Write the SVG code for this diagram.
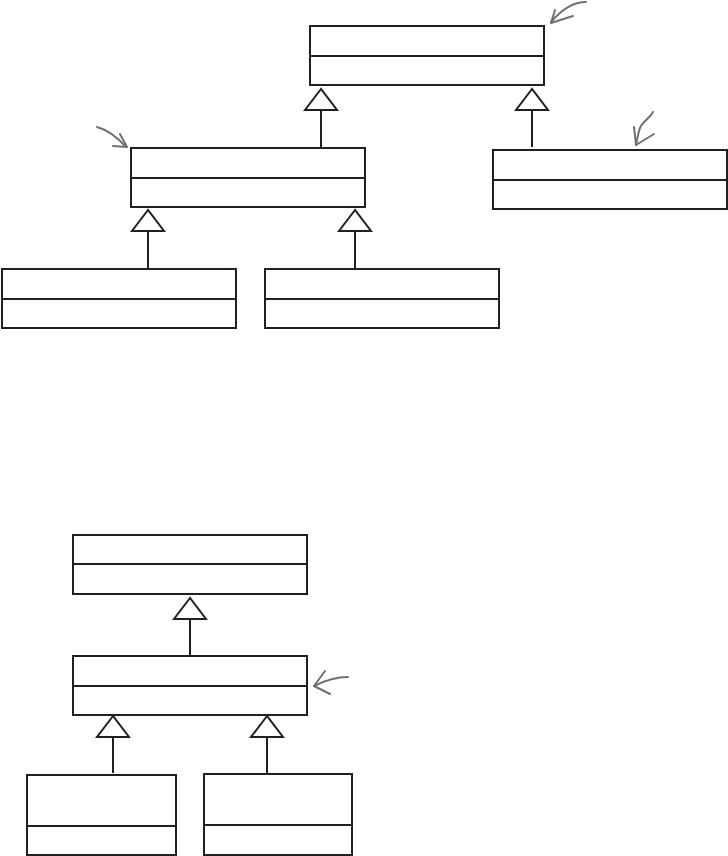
<svg xmlns="http://www.w3.org/2000/svg" width="728" height="856" viewBox="0 0 728 856">
<style>
.box{fill:#fff;stroke:#231f20;stroke-width:2}
.div{stroke:#231f20;stroke-width:2}
.con{stroke:#231f20;stroke-width:2;fill:none}
.tri{fill:#fff;stroke:#231f20;stroke-width:2;stroke-linejoin:miter}
.hand{fill:none;stroke:#707070;stroke-width:2;stroke-linecap:round;stroke-linejoin:round}
</style>
<rect width="728" height="856" fill="#fff"/>
<g id="connectors">
<line class="con" x1="321" y1="110" x2="321" y2="148"/>
<polygon class="tri" points="321,89 305,110 337,110"/>
<line class="con" x1="532" y1="110" x2="532" y2="147"/>
<polygon class="tri" points="532,89 516,110 548,110"/>
<line class="con" x1="148" y1="231" x2="148" y2="269"/>
<polygon class="tri" points="148,210 132,231 164,231"/>
<line class="con" x1="355" y1="231" x2="355" y2="269"/>
<polygon class="tri" points="355,210 339,231 371,231"/>
<line class="con" x1="190" y1="619" x2="190" y2="656"/>
<polygon class="tri" points="190,598 174,619 206,619"/>
<line class="con" x1="113" y1="737" x2="113" y2="773"/>
<polygon class="tri" points="113,716 97,737 129,737"/>
<line class="con" x1="267" y1="737" x2="267" y2="774"/>
<polygon class="tri" points="267,716 251,737 283,737"/>
</g>
<g id="nodeA"><rect class="box" x="310" y="26" width="234" height="59"/><line class="div" x1="310" y1="56" x2="544" y2="56"/></g>
<g id="nodeB"><rect class="box" x="131" y="148" width="234" height="59"/><line class="div" x1="131" y1="178" x2="365" y2="178"/></g>
<g id="nodeC"><rect class="box" x="493" y="150" width="234" height="59"/><line class="div" x1="493" y1="180" x2="727" y2="180"/></g>
<g id="nodeD"><rect class="box" x="2" y="269" width="234" height="59"/><line class="div" x1="2" y1="299" x2="236" y2="299"/></g>
<g id="nodeE"><rect class="box" x="265" y="269" width="234" height="59"/><line class="div" x1="265" y1="299" x2="499" y2="299"/></g>
<g id="nodeF"><rect class="box" x="73" y="535" width="234" height="59"/><line class="div" x1="73" y1="564" x2="307" y2="564"/></g>
<g id="nodeG"><rect class="box" x="73" y="656" width="234" height="59"/><line class="div" x1="73" y1="686" x2="307" y2="686"/></g>
<g id="nodeH"><rect class="box" x="27" y="775" width="149" height="80"/><line class="div" x1="27" y1="826" x2="176" y2="826"/></g>
<g id="nodeI"><rect class="box" x="204" y="774" width="148" height="81"/><line class="div" x1="204" y1="825" x2="352" y2="825"/></g>
<g id="annotations">
<path class="hand" d="M586,2 C576,2 563,8 551,22"/>
<path class="hand" d="M555,10 L551,23 L573,16"/>
<path class="hand" d="M97,127 C108,130 118,138 126,147"/>
<path class="hand" d="M120,134 L127,147 L113,146"/>
<path class="hand" d="M653,112 C650,118 642,122 640,128 C638,134 637,140 636,145"/>
<path class="hand" d="M634,127 L636,145 L654,134"/>
<path class="hand" d="M348,677 C340,677 330,678 314,686"/>
<path class="hand" d="M325,671 L314,686 L330,694"/>
</g>
</svg>
